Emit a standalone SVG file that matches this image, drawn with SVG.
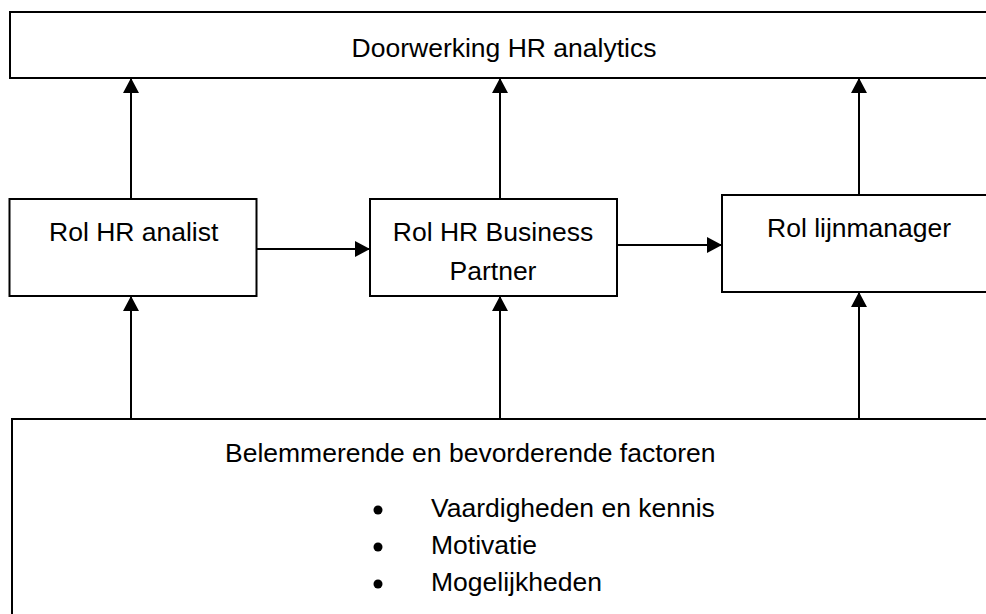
<svg xmlns="http://www.w3.org/2000/svg" width="986" height="614" viewBox="0 0 986 614">
<style>
.box{fill:#fff;stroke:#000;stroke-width:2}
.t{font-family:"Liberation Sans",Arial,sans-serif;font-size:26.5px;fill:#000}
.c{text-anchor:middle}
.con{stroke:#000;stroke-width:2;fill:none}
</style>
<defs>
<marker id="ah" markerUnits="userSpaceOnUse" markerWidth="16" markerHeight="16" viewBox="0 0 15 16" refX="15" refY="8" orient="auto">
<path d="M0,0 L15,8 L0,16 z" fill="#000"/>
</marker>
</defs>
<rect width="986" height="614" fill="#fff"/>
<g id="top">
<rect class="box" x="10" y="12" width="990" height="66"/>
<text class="t c" x="504" y="57">Doorwerking HR analytics</text>
</g>
<g id="analist">
<rect class="box" x="9.5" y="199" width="247" height="97"/>
<text class="t" x="49" y="241">Rol HR analist</text>
</g>
<g id="hrbp">
<rect class="box" x="370" y="199" width="247" height="97"/>
<text class="t c" x="493" y="241">Rol HR Business</text>
<text class="t c" x="493" y="280">Partner</text>
</g>
<g id="lijnmanager">
<rect class="box" x="722" y="195" width="280" height="97"/>
<text class="t" x="767" y="237">Rol lijnmanager</text>
</g>
<g id="factoren">
<rect class="box" x="12" y="419" width="990" height="210"/>
<text class="t" x="225" y="462">Belemmerende en bevorderende factoren</text>
<circle cx="378" cy="510" r="4.5" fill="#000"/>
<circle cx="378" cy="547" r="4.5" fill="#000"/>
<circle cx="378" cy="584" r="4.5" fill="#000"/>
<text class="t" x="431" y="517">Vaardigheden en kennis</text>
<text class="t" x="431" y="554">Motivatie</text>
<text class="t" x="431" y="591">Mogelijkheden</text>
</g>
<g id="connectors">
<line class="con" x1="131" y1="199" x2="131" y2="78" marker-end="url(#ah)"/>
<line class="con" x1="500" y1="199" x2="500" y2="78" marker-end="url(#ah)"/>
<line class="con" x1="859" y1="195" x2="859" y2="78" marker-end="url(#ah)"/>
<line class="con" x1="131" y1="419" x2="131" y2="296" marker-end="url(#ah)"/>
<line class="con" x1="500" y1="419" x2="500" y2="296" marker-end="url(#ah)"/>
<line class="con" x1="859" y1="419" x2="859" y2="292" marker-end="url(#ah)"/>
<line class="con" x1="257" y1="249" x2="370" y2="249" marker-end="url(#ah)"/>
<line class="con" x1="617" y1="245" x2="722" y2="245" marker-end="url(#ah)"/>
</g>
</svg>
